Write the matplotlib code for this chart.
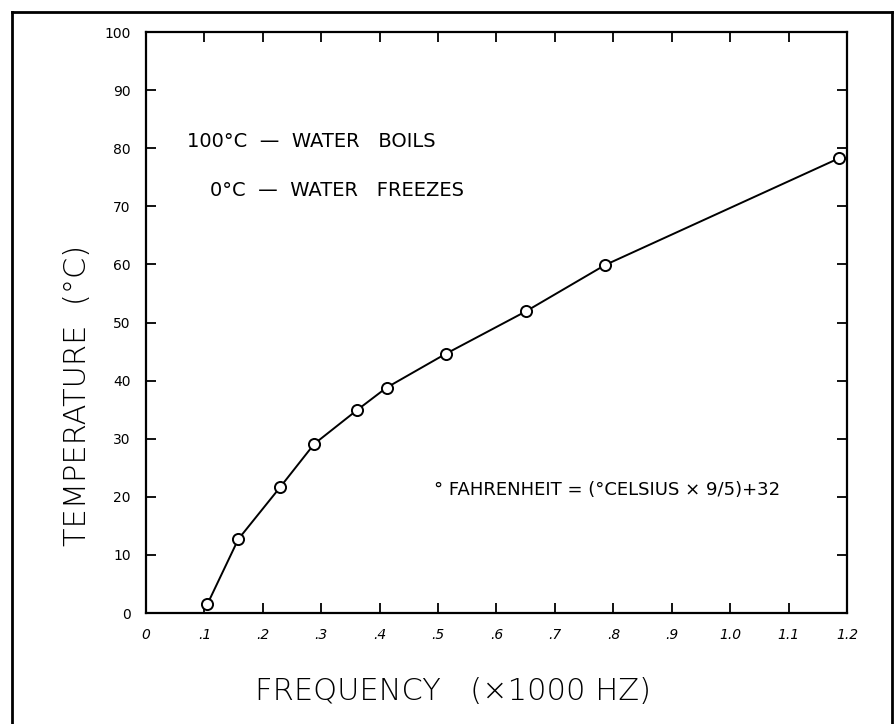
import matplotlib
matplotlib.use("Agg")
import matplotlib.pyplot as plt
from matplotlib.lines import Line2D

# frequency in kHz, temperature in deg C
freq = [0.105, 0.158, 0.23, 0.288, 0.361, 0.412, 0.513, 0.650, 0.786, 1.187]
temp = [1.5, 12.7, 21.7, 29.1, 34.9, 38.8, 44.6, 51.9, 59.9, 78.3]

x_ticks = [0, 0.1, 0.2, 0.3, 0.4, 0.5, 0.6, 0.7, 0.8, 0.9, 1.0, 1.1, 1.2]
x_labels = ["0", ".1", ".2", ".3", ".4", ".5", ".6", ".7", ".8", ".9", "1.0", "1.1", "1.2"]
y_ticks = list(range(0, 101, 10))

plt.rcParams['font.family'] = ['DejaVu Sans']

fig = plt.figure(figsize=(8.94, 7.24), dpi=100)
ax = fig.add_axes([0.1633, 0.1533, 0.7841, 0.8025])

ax.plot(freq, temp, color='black', lw=1.4, marker='o', ms=8,
        mfc='white', mec='black', mew=1.4)

ax.set_xlim(0, 1.2)
ax.set_ylim(0, 100)
ax.set_xticks(x_ticks)
ax.set_xticklabels(x_labels, fontsize=10, style='italic')
ax.set_yticks(y_ticks)
ax.set_yticklabels([str(v) for v in y_ticks], fontsize=10)
ax.tick_params(direction='in', length=7, width=1.3, top=True, right=True,
               pad=11)
for s in ax.spines.values():
    s.set_linewidth(1.6)

# axis titles, hand lettered in the original
fig.text(0.5067, 0.0442, "FREQUENCY   (×1000 HZ)", fontsize=22,
         fontweight='light', ha='center', va='center')
fig.text(0.0872, 0.4544, "TEMPERATURE  (°C)", fontsize=22,
         fontweight='light', ha='center', va='center', rotation=90)

ax.text(0.0585, 0.8107, "100°C  —  WATER   BOILS", transform=ax.transAxes,
        fontsize=14, va='center')
ax.text(0.0913, 0.728, "0°C  —  WATER   FREEZES", transform=ax.transAxes,
        fontsize=14, va='center')
ax.text(0.9044, 0.2117, "° FAHRENHEIT = (°CELSIUS × 9/5)+32",
        transform=ax.transAxes, fontsize=13, ha='right', va='center')

# outer border of the page
fig.add_artist(Line2D([0.0134, 0.0134], [0.0, 0.984], color='black', lw=2))
fig.add_artist(Line2D([0.0134, 0.998], [0.984, 0.984], color='black', lw=2))
fig.add_artist(Line2D([0.998, 0.998], [0.0, 0.984], color='black', lw=2))

fig.savefig("out.png", dpi=100)
